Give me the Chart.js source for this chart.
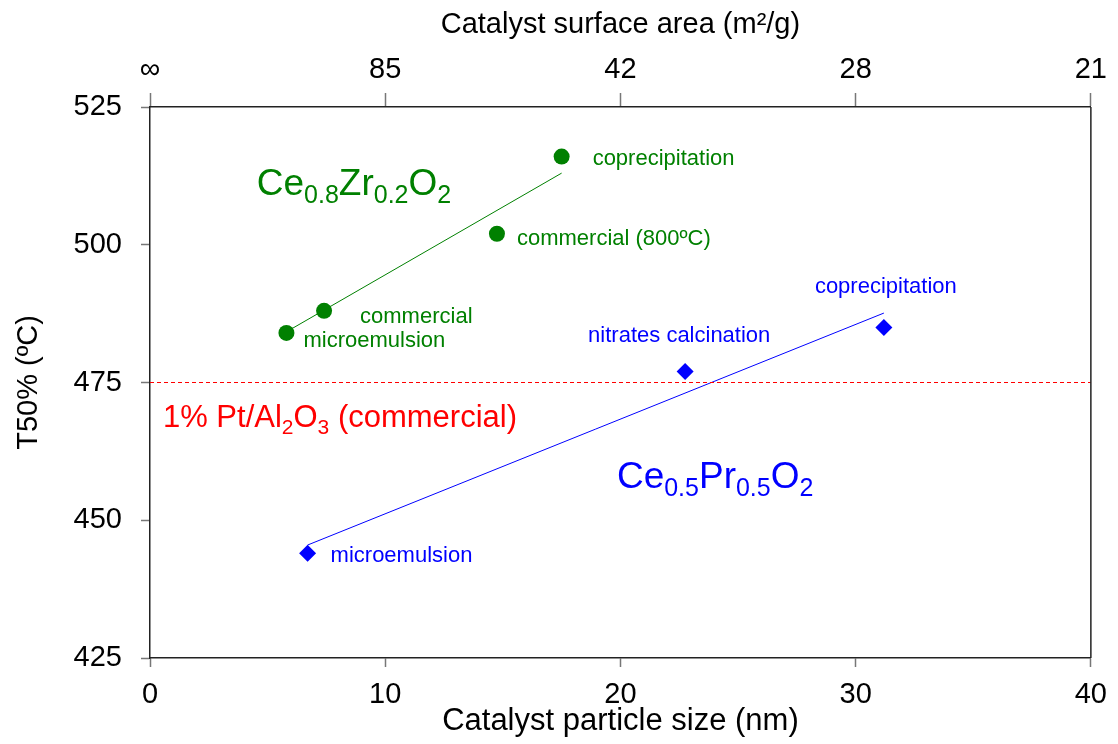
<!DOCTYPE html>
<html>
<head>
<meta charset="utf-8">
<script src="https://cdn.jsdelivr.net/npm/chart.js@4"></script>
<style>
  body { margin: 0; background: #fff; }
  canvas { display: block; }
</style>
</head>
<body>
<canvas id="chart" width="1118" height="744"></canvas>
<script>
// ---------- DATA ----------
const zrSize = [5.8, 7.4, 14.75, 17.5];
const zrT50 = [484, 488, 502, 516];
const zrLabels = ["microemulsion", "commercial", "commercial (800ºC)", "coprecipitation"];

const prSize = [6.7, 22.75, 31.2];
const prT50 = [444, 477, 485];
const prLabels = ["microemulsion", "nitrates calcination", "coprecipitation"];

// fitted trend lines (end points)
const zrFitX = [5.8, 17.5];
const zrFitY = [484.2, 513];
const prFitX = [6.7, 31.2];
const prFitY = [445.5, 487.6];

// commercial reference catalyst
const refX = [0, 40];
const refT50 = 475;

const sizeTicks = [0, 10, 20, 30, 40];
const areaTickLabels = ["∞", "85", "42", "28", "21"];

const FONT = "'Liberation Sans', Arial, sans-serif";
const GREEN = "#008000";
const BLUE = "#0000ff";
const RED = "#ff0000";

// ---------- HELPERS ----------
const toPoints = (xs, ys) => xs.map((x, i) => ({ x: x, y: Array.isArray(ys) ? ys[i] : ys }));

// text with subscripts: parts = [[text, isSub], ...]
function drawRich(ctx, parts, x, y, size, subSize, color) {
    ctx.fillStyle = color;
    ctx.textBaseline = "alphabetic";
    ctx.textAlign = "left";
    parts.forEach(([txt, sub]) => {
        ctx.font = (sub ? subSize : size) + "px " + FONT;
        ctx.fillText(txt, x, sub ? y + size * 0.22 : y);
        x += ctx.measureText(txt).width;
    });
}

// point labels + formulas, placed through the scales
const labelPlugin = {
    id: "labels",
    afterDatasetsDraw(chart) {
        const ctx = chart.ctx;
        const xs = chart.scales.x, ys = chart.scales.y;
        const area = chart.chartArea;

        ctx.save();
        // right frame line
        ctx.strokeStyle = "#222";
        ctx.lineWidth = 1.5;
        ctx.beginPath();
        ctx.moveTo(area.right, area.top);
        ctx.lineTo(area.right, area.bottom);
        ctx.stroke();

        ctx.font = "22px " + FONT;
        ctx.textBaseline = "alphabetic";
        const zrOff = [[17, 14], [36, 12], [20, 11], [31, 8]];
        ctx.fillStyle = GREEN;
        zrLabels.forEach((t, i) => {
            ctx.fillText(t, xs.getPixelForValue(zrSize[i]) + zrOff[i][0], ys.getPixelForValue(zrT50[i]) + zrOff[i][1]);
        });
        const prOff = [[23, 9], [-97, -29], [-69, -34]];
        ctx.fillStyle = BLUE;
        prLabels.forEach((t, i) => {
            ctx.fillText(t, xs.getPixelForValue(prSize[i]) + prOff[i][0], ys.getPixelForValue(prT50[i]) + prOff[i][1]);
        });

        drawRich(ctx, [["Ce", 0], ["0.8", 1], ["Zr", 0], ["0.2", 1], ["O", 0], ["2", 1]],
            xs.getPixelForValue(4.54), ys.getPixelForValue(509), 37, 25, GREEN);
        drawRich(ctx, [["Ce", 0], ["0.5", 1], ["Pr", 0], ["0.5", 1], ["O", 0], ["2", 1]],
            xs.getPixelForValue(19.85), ys.getPixelForValue(455.85), 37, 25, BLUE);
        drawRich(ctx, [["1% Pt/Al", 0], ["2", 1], ["O", 0], ["3", 1], [" (commercial)", 0]],
            xs.getPixelForValue(0.55), ys.getPixelForValue(466.9), 31, 21, RED);
        ctx.restore();
    }
};

// ---------- CHART ----------
const ctx = document.getElementById("chart").getContext("2d");
new Chart(ctx, {
    type: "scatter",
    data: {
        datasets: [
            {
                data: toPoints(refX, refT50),
                showLine: true,
                borderColor: RED,
                borderWidth: 1,
                borderDash: [4, 3],
                pointRadius: 0
            },
            {
                data: toPoints(zrFitX, zrFitY),
                showLine: true,
                borderColor: GREEN,
                borderWidth: 1,
                pointRadius: 0
            },
            {
                data: toPoints(prFitX, prFitY),
                showLine: true,
                borderColor: BLUE,
                borderWidth: 1,
                pointRadius: 0
            },
            {
                data: toPoints(zrSize, zrT50),
                pointStyle: "circle",
                pointRadius: 8,
                backgroundColor: GREEN,
                borderColor: GREEN,
                borderWidth: 0
            },
            {
                data: toPoints(prSize, prT50),
                pointStyle: "rectRot",
                pointRadius: 8.5,
                backgroundColor: BLUE,
                borderColor: BLUE,
                borderWidth: 0
            }
        ]
    },
    options: {
        responsive: false,
        animation: false,
        layout: { padding: { right: 25 } },
        plugins: {
            legend: { display: false },
            tooltip: { enabled: false }
        },
        scales: {
            x: {
                type: "linear",
                position: "bottom",
                min: 0,
                max: 40,
                afterBuildTicks: s => { s.ticks = sizeTicks.map(v => ({ value: v })); },
                afterFit: s => { s.height = 86; },
                border: { color: "#222", width: 1.5 },
                grid: { drawOnChartArea: false, tickLength: 9, color: "#777", tickWidth: 1.5 },
                ticks: { color: "#000", font: { size: 29, family: FONT }, padding: 11, maxRotation: 0 },
                title: {
                    display: true,
                    text: "Catalyst particle size (nm)",
                    color: "#000",
                    font: { size: 31, family: FONT },
                    padding: { top: 0, bottom: 4 }
                }
            },
            x2: {
                type: "linear",
                position: "top",
                min: 0,
                max: 40,
                afterBuildTicks: s => { s.ticks = sizeTicks.map(v => ({ value: v })); },
                afterFit: s => { s.height = 107; },
                border: { color: "#222", width: 1.5 },
                grid: { drawOnChartArea: false, tickLength: 14, color: "#777", tickWidth: 1.5 },
                ticks: {
                    color: "#000",
                    font: { size: 29, family: FONT },
                    padding: 6,
                    maxRotation: 0,
                    callback: v => areaTickLabels[sizeTicks.indexOf(v)]
                },
                title: {
                    display: true,
                    text: "Catalyst surface area (m²/g)",
                    color: "#000",
                    font: { size: 29, family: FONT },
                    padding: { top: 8, bottom: 0 }
                }
            },
            y: {
                min: 425,
                max: 525,
                afterFit: s => { s.width = 150; },
                border: { color: "#222", width: 1.5 },
                grid: { drawOnChartArea: false, tickLength: 9, color: "#777", tickWidth: 1.5 },
                ticks: { stepSize: 25, color: "#000", font: { size: 29, family: FONT }, padding: 19 },
                title: {
                    display: true,
                    text: "T50% (ºC)",
                    color: "#000",
                    font: { size: 29, family: FONT },
                    padding: { top: 12, bottom: 0 }
                }
            }
        }
    },
    plugins: [labelPlugin]
});
</script>
</body>
</html>
